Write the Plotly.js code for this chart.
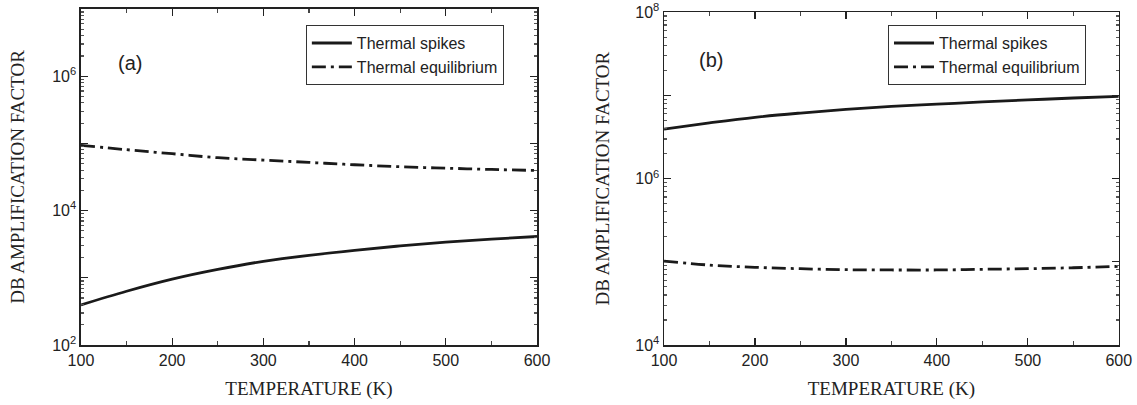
<!DOCTYPE html>
<html><head><meta charset="utf-8">
<script src="https://cdn.plot.ly/plotly-3.0.1.min.js"></script>
<style>html,body{margin:0;padding:0;background:#fff}#chart{width:1137px;height:405px}</style>
</head><body><div id="chart"></div>
<script>
const temperature = [100, 150, 200, 250, 300, 350, 400, 450, 500, 550, 600];
const spikesA = [395, 631, 955, 1333, 1758, 2163, 2570, 2985, 3388, 3758, 4121];
const equilA = [93300, 80500, 70200, 61200, 56400, 52100, 48100, 44900, 42800, 40900, 39500];
const spikesB = [3.93e6, 4.67e6, 5.46e6, 6.14e6, 6.79e6, 7.37e6, 7.84e6, 8.35e6, 8.82e6, 9.31e6, 9.75e6];
const equilB = [102000, 91400, 85900, 82600, 80400, 79800, 79800, 81300, 82600, 84900, 88100];
const seriesNames = ["Thermal spikes", "Thermal equilibrium"];
const yTicksA = [100, 1e3, 1e4, 1e5, 1e6, 1e7];
const yTextA = ["10<sup>2</sup>", "", "10<sup>4</sup>", "", "10<sup>6</sup>", ""];
const yTicksB = [1e4, 1e5, 1e6, 1e7, 1e8];
const yTextB = ["10<sup>4</sup>", "", "10<sup>6</sup>", "", "10<sup>8</sup>"];
const xTicks = [100, 200, 300, 400, 500, 600];
const panelLabels = ["(a)", "(b)"];

function solid() { return {color: "#1a1a1a", width: 2.8, shape: "spline"}; }
function dashdot() { return {color: "#1a1a1a", width: 2.8, dash: "14px,5px,3px,5px", shape: "spline"}; }

const traces = [
  {x: temperature, y: spikesA, name: seriesNames[0], mode: "lines", line: solid(), xaxis: "x", yaxis: "y", legend: "legend"},
  {x: temperature, y: equilA, name: seriesNames[1], mode: "lines", line: dashdot(), xaxis: "x", yaxis: "y", legend: "legend"},
  {x: temperature, y: spikesB, name: seriesNames[0], mode: "lines", line: solid(), xaxis: "x2", yaxis: "y2", legend: "legend2"},
  {x: temperature, y: equilB, name: seriesNames[1], mode: "lines", line: dashdot(), xaxis: "x2", yaxis: "y2", legend: "legend2"}
];

const tickFont = {family: "Liberation Sans, Arial, sans-serif", size: 16, color: "#222"};
const titleFont = {family: "Liberation Serif, Times New Roman, serif", size: 19, color: "#222"};

function xaxis(domain, anchor) {
  return {
    domain: domain, anchor: anchor, range: [100, 600], tickvals: xTicks,
    ticks: "inside", ticklen: 7, tickwidth: 1.2, tickcolor: "#222",
    showline: true, linecolor: "#222", linewidth: 1.5, mirror: "ticks",
    showgrid: false, zeroline: false, tickfont: tickFont, ticklabeloverflow: "allow",
    minor: {dtick: 50, ticks: "inside", ticklen: 4, tickcolor: "#444", showgrid: false},
    title: {text: "TEMPERATURE (K)", font: titleFont, standoff: 14}
  };
}
function yaxis(domain, anchor, range, tv, tt, standoff) {
  return {
    domain: domain, anchor: anchor, type: "log", range: range, tickvals: tv, ticktext: tt,
    ticks: "inside", ticklen: 7, tickwidth: 1.2, tickcolor: "#222",
    showline: true, linecolor: "#222", linewidth: 1.5, mirror: "ticks",
    showgrid: false, zeroline: false, tickfont: tickFont, ticklabeloverflow: "allow",
    minor: {dtick: "D1", ticks: "inside", ticklen: 3, tickcolor: "#555", showgrid: false},
    title: {text: "DB AMPLIFICATION FACTOR", font: titleFont, standoff: standoff}
  };
}

const legendBase = {
  font: {family: "Liberation Sans, Arial, sans-serif", size: 16, color: "#222"},
  bgcolor: "#fff", bordercolor: "#333", borderwidth: 1,
  xanchor: "left", yanchor: "top", tracegroupgap: 0, itemwidth: 40
};

const labelFont = {family: "Liberation Sans, Arial, sans-serif", size: 20, color: "#222"};

const layout = {
  width: 1137, height: 405,
  margin: {l: 0, r: 0, t: 0, b: 0},
  paper_bgcolor: "#fff", plot_bgcolor: "#fff",
  showlegend: true,
  xaxis: xaxis([0.0712, 0.4723], "y"),
  yaxis: yaxis([0.148, 0.978], "x", [2, 7], yTicksA, yTextA, 22),
  xaxis2: xaxis([0.584, 0.984], "y2"),
  yaxis2: yaxis([0.148, 0.970], "x2", [3.9995, 8.0005], yTicksB, yTextB, 20),
  legend: Object.assign({x: 0.269, y: 0.938}, legendBase),
  legend2: Object.assign({x: 0.781, y: 0.938}, legendBase),
  annotations: [
    {text: panelLabels[0], xref: "paper", yref: "paper", x: 0.1139, y: 0.844, xanchor: "center", yanchor: "middle", showarrow: false, font: labelFont},
    {text: panelLabels[1], xref: "paper", yref: "paper", x: 0.6253, y: 0.852, xanchor: "center", yanchor: "middle", showarrow: false, font: labelFont}
  ]
};

Plotly.newPlot("chart", traces, layout, {staticPlot: true});
</script></body></html>
